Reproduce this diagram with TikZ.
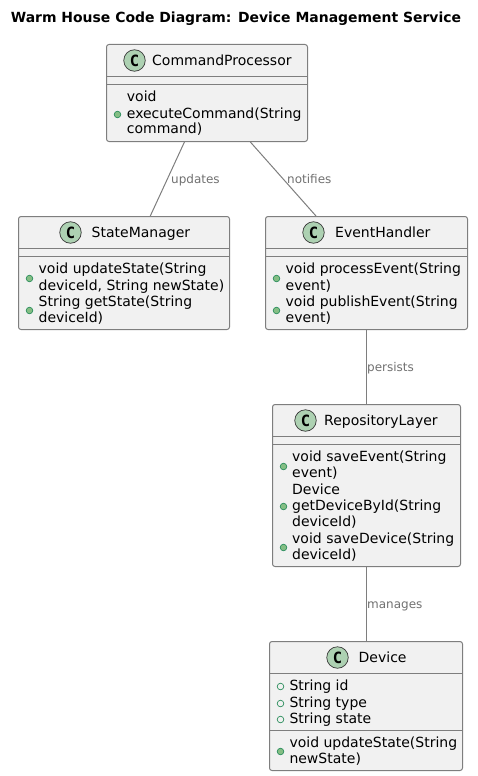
\documentclass[tikz,border=0pt]{standalone}
\usepackage{fontspec}
\setmainfont{DejaVu Sans}
\newfontfamily\badgefont{DejaVu Sans Mono}
\definecolor{boxfill}{HTML}{F1F1F1}
\definecolor{boxline}{HTML}{7E7E7E}
\definecolor{badgeline}{HTML}{3A3A3A}
\definecolor{cfill}{HTML}{ADD1B2}
\definecolor{pubfill}{HTML}{84BE84}
\definecolor{publine}{HTML}{2E8F5F}
\definecolor{lbl}{HTML}{707070}
\tikzset{
  x=1pt,y=-1pt,
  classbox/.style={draw=boxline,fill=boxfill,line width=1pt,rounded corners=2.5pt,inner sep=0pt},
  sepline/.style={draw=boxline,line width=1pt},
  conn/.style={draw=boxline,line width=1pt},
  cbadge/.style={circle,draw=badgeline,fill=cfill,line width=0.7pt,minimum size=21.5pt,inner sep=0pt,font=\fontsize{15.5}{15.5}\selectfont\badgefont\bfseries},
  cname/.style={anchor=base west,inner sep=0pt,text=black,font=\fontsize{14}{14}\selectfont},
  member/.style={anchor=base west,inner sep=0pt,text=black,font=\fontsize{14}{14}\selectfont},
  method/.style={circle,draw=publine,fill=pubfill,line width=0.7pt,minimum size=6.6pt,inner sep=0pt},
  field/.style={circle,draw=publine,fill=none,line width=0.7pt,minimum size=6.6pt,inner sep=0pt},
  edgelabel/.style={anchor=base west,inner sep=0pt,text=lbl,font=\fontsize{12}{12}\selectfont},
  titletext/.style={anchor=base west,inner sep=0pt,text=black,font=\fontsize{13.95}{14}\selectfont\bfseries},
}
\begin{document}
\begin{tikzpicture}
\useasboundingbox (0,0) rectangle (477,776);
\node[titletext] (title) at (10.7,23) {Warm House Code Diagram: Device Management Service};

% CommandProcessor
\node[classbox,minimum width=201pt,minimum height=97pt] (cp) at (207,93) {};
\draw[sepline] (106.5,76.5) -- (307.5,76.5);
\draw[sepline] (106.5,84.5) -- (307.5,84.5);
\node[cbadge] (cpc) at (134.5,60.5) {C};
\node[cname] (cpn) at (152,65.5) {CommandProcessor};
\node[method] (cpb) at (117.5,114.5) {};
\node[member] (cp1) at (126.7,101) {void};
\node[member] (cp2) at (126.7,118) {executeCommand(String};
\node[member] (cp3) at (126.7,133.5) {command)};

% StateManager
\node[classbox,minimum width=211pt,minimum height=113pt] (sm) at (124,273) {};
\draw[sepline] (18.5,248.5) -- (229.5,248.5);
\draw[sepline] (18.5,256.5) -- (229.5,256.5);
\node[cbadge] (smc) at (70.5,232.5) {C};
\node[cname] (smn) at (91.5,237.5) {StateManager};
\node[method] (smb1) at (29.5,278.5) {};
\node[member] (sm1) at (38.5,273) {void updateState(String};
\node[member] (sm2) at (38.5,290) {deviceId, String newState)};
\node[method] (smb2) at (29.5,310.5) {};
\node[member] (sm3) at (38.5,306) {String getState(String};
\node[member] (sm4) at (38.5,322) {deviceId)};

% EventHandler
\node[classbox,minimum width=202pt,minimum height=113pt] (eh) at (366.5,273) {};
\draw[sepline] (265.5,248.5) -- (467.5,248.5);
\draw[sepline] (265.5,256.5) -- (467.5,256.5);
\node[cbadge] (ehc) at (313.5,232.5) {C};
\node[cname] (ehn) at (335,237.5) {EventHandler};
\node[method] (ehb1) at (276.5,278.5) {};
\node[member] (eh1) at (285.5,273) {void processEvent(String};
\node[member] (eh2) at (285.5,290) {event)};
\node[method] (ehb2) at (276.5,310.5) {};
\node[member] (eh3) at (285.5,306) {void publishEvent(String};
\node[member] (eh4) at (285.5,322) {event)};

% RepositoryLayer
\node[classbox,minimum width=188pt,minimum height=162pt] (repo) at (366.5,485.5) {};
\draw[sepline] (272.5,436.5) -- (460.5,436.5);
\draw[sepline] (272.5,444.5) -- (460.5,444.5);
\node[cbadge] (repoc) at (305.5,420.5) {C};
\node[cname] (repon) at (324,425.5) {RepositoryLayer};
\node[method] (repob1) at (283.5,466.5) {};
\node[member] (repo1) at (292,461.5) {void saveEvent(String};
\node[member] (repo2) at (292,477.5) {event)};
\node[method] (repob2) at (283.5,506.5) {};
\node[member] (repo3) at (292,494) {Device};
\node[member] (repo4) at (292,510) {getDeviceById(String};
\node[member] (repo5) at (292,526) {deviceId)};
\node[method] (repob3) at (283.5,547.5) {};
\node[member] (repo6) at (292,543) {void saveDevice(String};
\node[member] (repo7) at (292,559) {deviceId)};

% Device
\node[classbox,minimum width=193pt,minimum height=129pt] (dev) at (366,706) {};
\draw[sepline] (269.5,673.5) -- (462.5,673.5);
\draw[sepline] (269.5,730.5) -- (462.5,730.5);
\node[cbadge] (devc) at (337.5,657.5) {C};
\node[cname] (devn) at (358.5,662.5) {Device};
\node[field] (devf1) at (280.5,686.5) {};
\node[member] (dev1) at (289.3,690) {String id};
\node[field] (devf2) at (280.5,703.5) {};
\node[member] (dev2) at (289.3,707) {String type};
\node[field] (devf3) at (280.5,719.5) {};
\node[member] (dev3) at (289.3,723) {String state};
\node[method] (devb) at (280.5,751.5) {};
\node[member] (dev4) at (289.3,747) {void updateState(String};
\node[member] (dev5) at (289.3,763) {newState)};

% Connectors
\draw[conn] (cp) -- (sm);
\draw[conn] (cp) -- (eh);
\draw[conn] (eh) -- (repo);
\draw[conn] (repo) -- (repo |- dev.north);

\node[edgelabel] (l1) at (171,183) {updates};
\node[edgelabel] (l2) at (287,183) {notifies};
\node[edgelabel] (l3) at (367,371.5) {persists};
\node[edgelabel] (l4) at (367,608.5) {manages};
\end{tikzpicture}
\end{document}
